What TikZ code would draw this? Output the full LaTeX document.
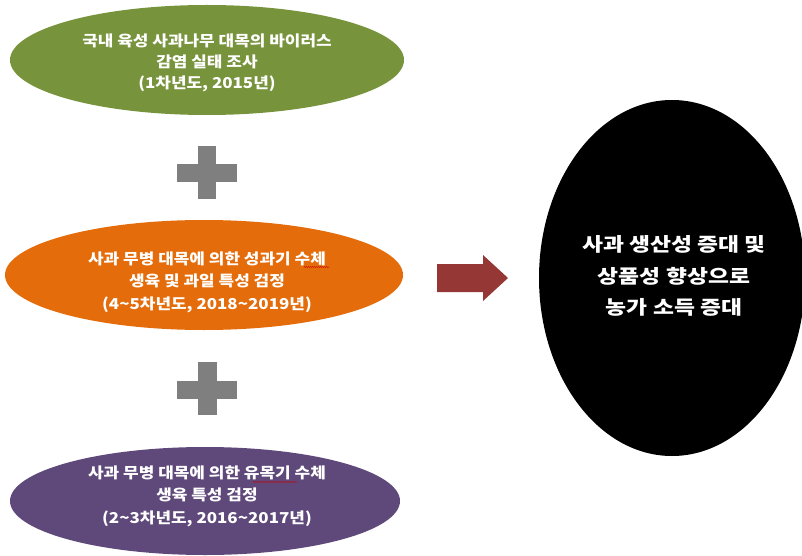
\documentclass[tikz,border=0pt]{standalone}
\usepackage{fontspec}
\newfontfamily\kr{Noto Sans CJK KR}[FakeStretch=1.13]
\newfontfamily\krbig{Noto Sans CJK KR}[FakeStretch=1.2]
\usetikzlibrary{shapes.geometric,decorations.pathmorphing}
\definecolor{olivegreen}{HTML}{77933C}
\definecolor{orangeb}{HTML}{E46C0A}
\definecolor{purpleb}{HTML}{5F497A}
\definecolor{plusgray}{HTML}{7F7F7F}
\definecolor{arrowred}{HTML}{953735}
\tikzset{
  x=1pt,y=1pt,
  blob/.style={ellipse, draw=none, inner sep=0pt},
  lbl/.style={text=white, align=center, inner sep=0pt, font=\kr\bfseries\fontsize{15}{22.5}\selectfont},
  biglbl/.style={text=white, align=center, inner sep=0pt, font=\krbig\bfseries\fontsize{19}{31.5}\selectfont},
  spell/.style={draw=red!80!black, line width=0.5pt, decorate, decoration={snake, amplitude=0.5pt, segment length=2pt}},
}
\begin{document}
\begin{tikzpicture}
\useasboundingbox (0,0) rectangle (802,-556);
% ellipses
\node[blob, fill=olivegreen, minimum width=394, minimum height=110] (e1) at (207,-60) {};
\node[blob, fill=orangeb, minimum width=398, minimum height=110] (e2) at (204,-275) {};
\node[blob, fill=purpleb, minimum width=390, minimum height=108] (e3) at (205,-501) {};
\node[blob, fill=black, minimum width=266, minimum height=356] (e4) at (672,-278) {};
% texts
\node[lbl, font=\kr\bfseries\fontsize{15}{21}\selectfont] (t1) at (207,-63) {국내 육성 사과나무 대목의 바이러스\\감염 실태 조사\\(1차년도, 2015년)};
\node[lbl] (t2) at (207,-282) {사과 무병 대목에 의한 성과기 수체\\생육 및 과일 특성 검정\\(4\textasciitilde5차년도, 2018\textasciitilde2019년)};
\node[lbl] (t3) at (207,-496) {사과 무병 대목에 의한 유목기 수체\\생육 특성 검정\\(2\textasciitilde3차년도, 2016\textasciitilde2017년)};
\node[biglbl] (t4) at (674,-276) {사과 생산성 증대 및\\상품성 향상으로\\농가 소득 증대};
% spell-check marks
\draw[spell] (304,-267) -- (329,-267);
\draw[spell] (253,-482) -- (297,-482);
% plus signs
\fill[plusgray] (198,-146) rectangle (216,-199);
\fill[plusgray] (177,-164) rectangle (237,-182);
\fill[plusgray] (198,-362) rectangle (217,-415);
\fill[plusgray] (177,-381) rectangle (237,-399);
% arrow
\fill[arrowred] (437,-264) -- (483,-264) -- (483,-255) -- (508,-278) -- (483,-301) -- (483,-292) -- (437,-292) -- cycle;
\end{tikzpicture}
\end{document}
